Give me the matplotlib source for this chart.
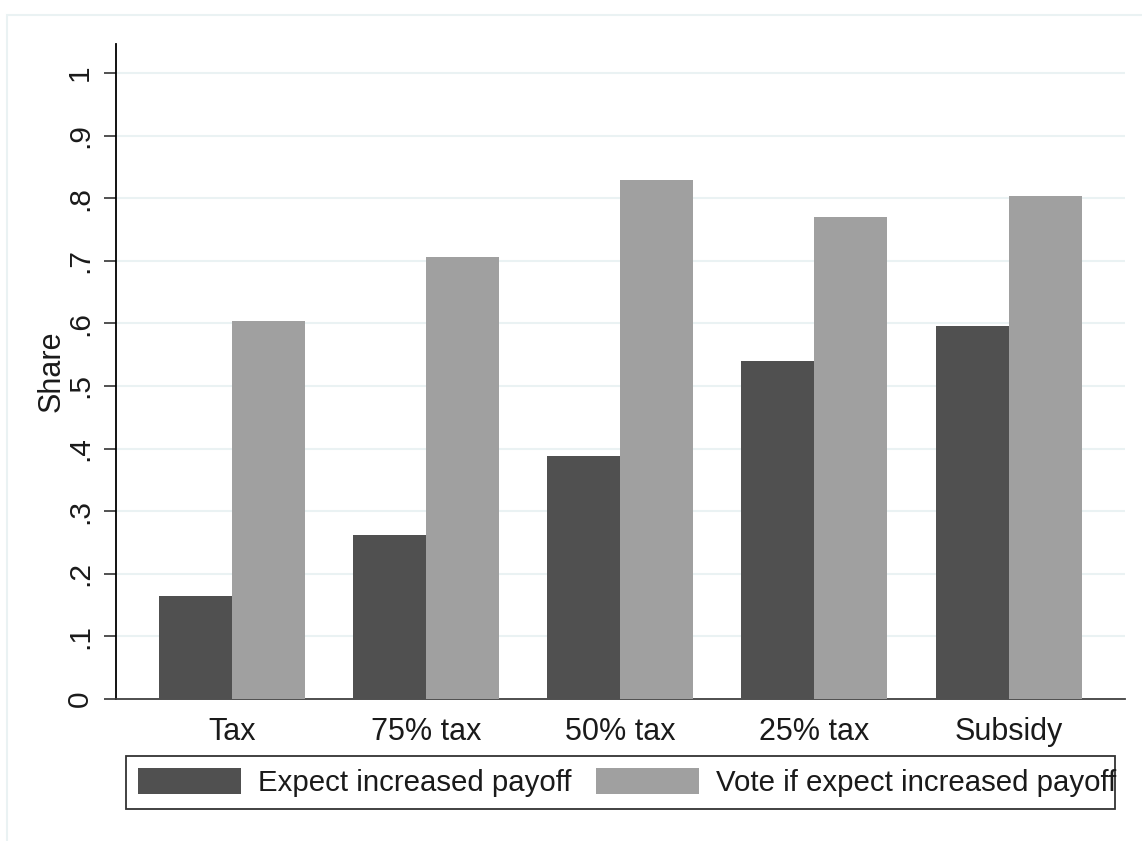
import matplotlib
matplotlib.use("Agg")
import matplotlib.pyplot as plt
from matplotlib.patches import Rectangle, Patch
import numpy as np

plt.rcParams['font.family'] = ['Liberation Sans', 'DejaVu Sans']

categories = ["Tax", "75% tax", "50% tax", "25% tax", "Subsidy"]
expect_increased = [0.165, 0.262, 0.388, 0.540, 0.596]
vote_if_expect = [0.604, 0.706, 0.829, 0.770, 0.803]
series_labels = ["Expect increased payoff", "Vote if expect increased payoff"]
yticks = [0, 0.1, 0.2, 0.3, 0.4, 0.5, 0.6, 0.7, 0.8, 0.9, 1.0]
ytick_labels = ["0", ".1", ".2", ".3", ".4", ".5", ".6", ".7", ".8", ".9", "1"]

W, H = 1142, 841
fig = plt.figure(figsize=(W / 100, H / 100), dpi=100)
fig.patch.set_facecolor("white")
txt = "#1a1a1a"

# outer graph region frame
fig.patches.append(Rectangle((7 / W, -0.05), 1.2, 1 - 15 / H + 0.05,
                             transform=fig.transFigure, fill=False,
                             edgecolor="#eaf2f3", linewidth=1.5, clip_on=False))

left, right = 115.7 / W, 1125 / W
bottom, top = 1 - 699 / H, 1 - 43.5 / H
ax = fig.add_axes([left, bottom, right - left, top - bottom])

dark = "#505050"
light = "#a0a0a0"
x = np.arange(len(categories))
w = 0.376
ax.bar(x - w / 2, expect_increased, width=w, color=dark, edgecolor="none",
       label=series_labels[0], zorder=3)
ax.bar(x + w / 2, vote_if_expect, width=w, color=light, edgecolor="none",
       label=series_labels[1], zorder=3)

ax.set_xlim(-0.6, 4.6)
ax.set_ylim(0, 1.047)
ax.set_yticks(yticks)
ax.set_yticklabels(ytick_labels, rotation=90, va="center", fontsize=21.5, color=txt)
ax.set_xticks(x)
ax.set_xticklabels(categories, fontsize=22, color=txt)
ax.tick_params(axis="x", length=0, pad=13)
ax.tick_params(axis="y", length=8.5, width=1.2, color="#333333", pad=7)

for yv in yticks[1:]:
    ax.axhline(yv, color="#eaf2f3", linewidth=1.5, zorder=1)

for s in ["top", "right"]:
    ax.spines[s].set_visible(False)
ax.spines["left"].set_color("black")
ax.spines["left"].set_linewidth(1.3)
ax.spines["bottom"].set_color("#404040")
ax.spines["bottom"].set_linewidth(1.3)

ax.set_ylabel("Share", fontsize=22, labelpad=-0.5, color=txt)

handles = [Patch(facecolor=dark, edgecolor="none"),
           Patch(facecolor=light, edgecolor="none")]
fs = 21.2
px = fs * 100 / 72
leg = fig.legend(handles, series_labels, loc="upper left",
                 bbox_to_anchor=(125.7 / W, 1 - 756 / H), ncol=2,
                 fontsize=fs, frameon=False,
                 handlelength=103 / px, handleheight=29 / px,
                 handletextpad=17 / px, columnspacing=25 / px,
                 borderpad=12 / px, borderaxespad=0, labelcolor=txt)
fig.patches.append(Rectangle((125.7 / W, 1 - 809 / H), (1115 - 125.7) / W,
                             (809 - 756) / H, transform=fig.transFigure,
                             fill=False, edgecolor="#333333", linewidth=1.3,
                             zorder=5))

fig.savefig("out.png", dpi=100)
